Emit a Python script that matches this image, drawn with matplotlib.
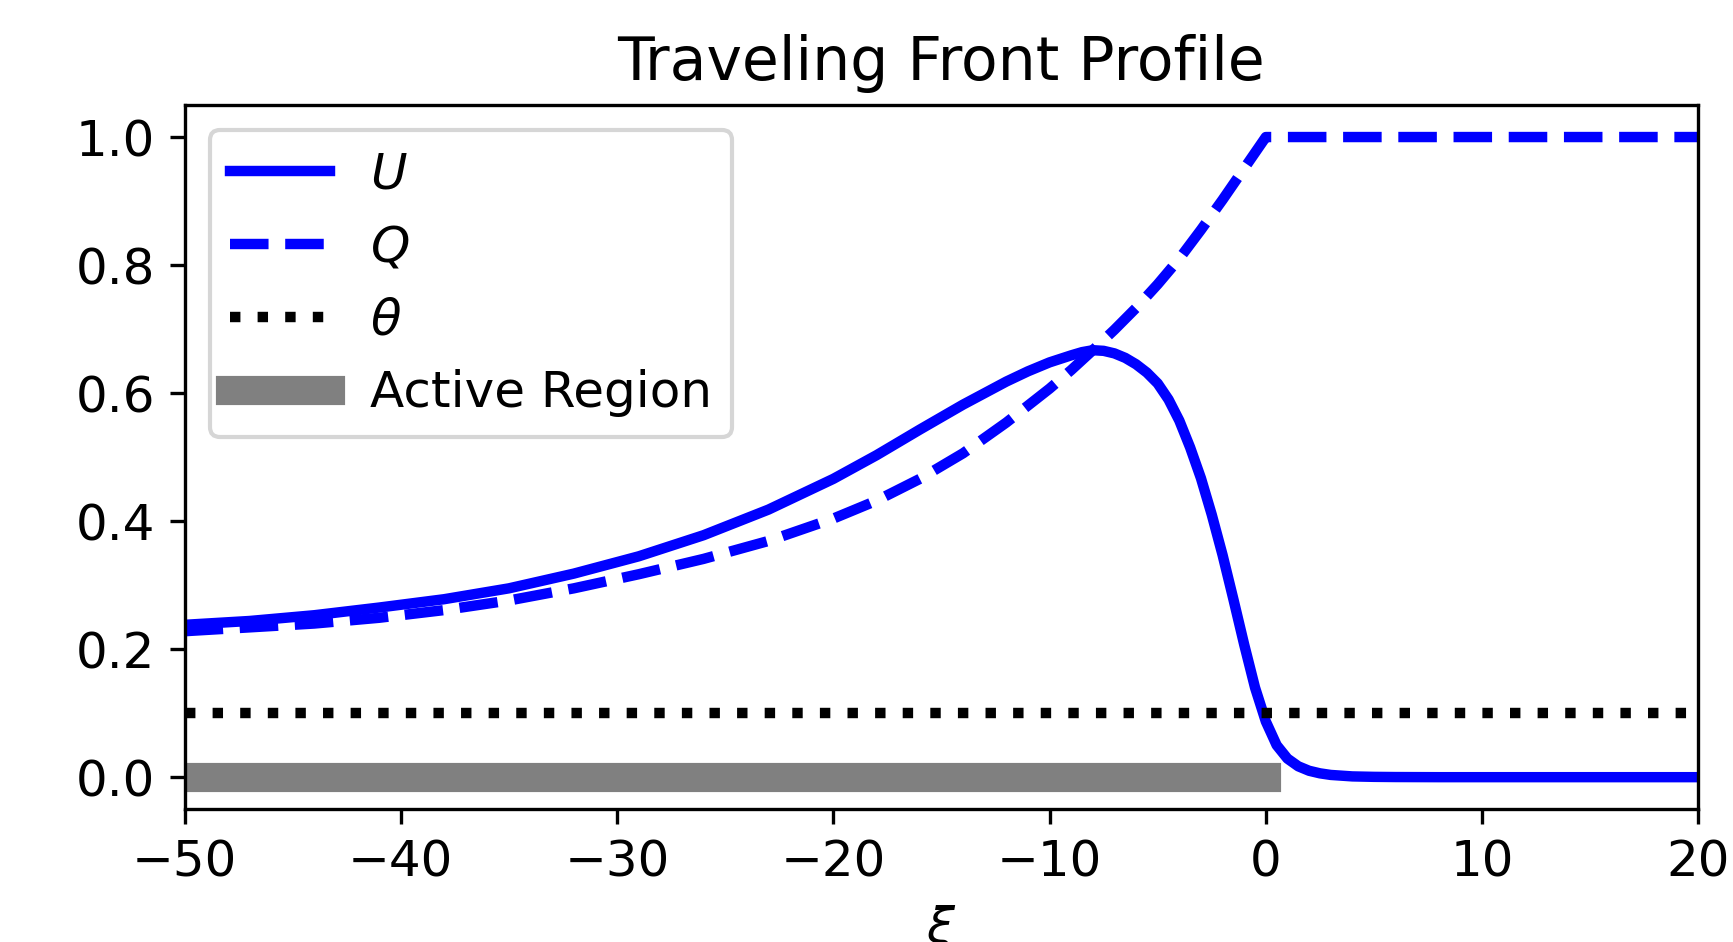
import matplotlib
matplotlib.use("Agg")
import matplotlib.pyplot as plt

# values
xi_u = [-50, -47, -44, -41, -38, -35, -32, -29, -26, -23, -20, -18, -16, -14, -12,
        -11, -10, -9, -8.5, -8, -7.5, -7, -6.5, -6, -5.5, -5, -4.5, -4, -3.5, -3,
        -2.5, -2, -1.5, -1, -0.5, 0, 0.5, 1, 1.5, 2, 2.5, 3, 4, 5, 6, 8, 10, 15, 20]
u_vals = [0.238, 0.244, 0.253, 0.265, 0.278, 0.295, 0.318, 0.345, 0.378, 0.418, 0.466,
          0.503, 0.543, 0.582, 0.618, 0.634, 0.648, 0.659, 0.664, 0.667, 0.666, 0.662,
          0.655, 0.645, 0.632, 0.615, 0.590, 0.557, 0.515, 0.467, 0.410, 0.347, 0.278,
          0.207, 0.140, 0.087, 0.050, 0.029, 0.017, 0.010, 0.006, 0.0035, 0.0012,
          0.0005, 0.0002, 0.0, 0.0, 0.0, 0.0]

xi_q = [-50, -47, -44, -41, -38, -35, -32, -29, -26, -23, -20, -18, -16, -14, -12,
        -10, -9, -8, -7, -6, -5, -4, -3, -2, -1, 0, 20]
q_vals = [0.228, 0.234, 0.240, 0.249, 0.261, 0.276, 0.295, 0.317, 0.341, 0.369, 0.404,
          0.432, 0.466, 0.506, 0.554, 0.607, 0.636, 0.667, 0.699, 0.733, 0.770, 0.810,
          0.855, 0.902, 0.951, 1.0, 1.0]

theta = 0.1
active_start, active_end = -50, 0
xlim = (-50, 20)
ylim = (-0.05, 1.05)

plt.rcParams['font.size'] = 12

fig, ax = plt.subplots(figsize=(1733 / 300, 942 / 300), dpi=300)
fig.subplots_adjust(left=0.1065, right=0.980, top=0.8885, bottom=0.141)

ax.plot(xi_u, u_vals, color='blue', lw=2.5, label='$U$')
ax.plot(xi_q, q_vals, color='blue', lw=2.5, ls='--', label='$Q$')
ax.axhline(theta, color='black', lw=2.5, ls=':', label=r'$\theta$')
ax.plot([active_start, active_end], [0, 0], color='gray', lw=7,
        solid_capstyle='projecting', label='Active Region')

ax.set_xlim(*xlim)
ax.set_ylim(*ylim)
ax.set_xlabel(r'$\xi$')
ax.set_title('Traveling Front Profile')
ax.legend(loc='upper left')

fig.savefig('out.png', dpi=300)
